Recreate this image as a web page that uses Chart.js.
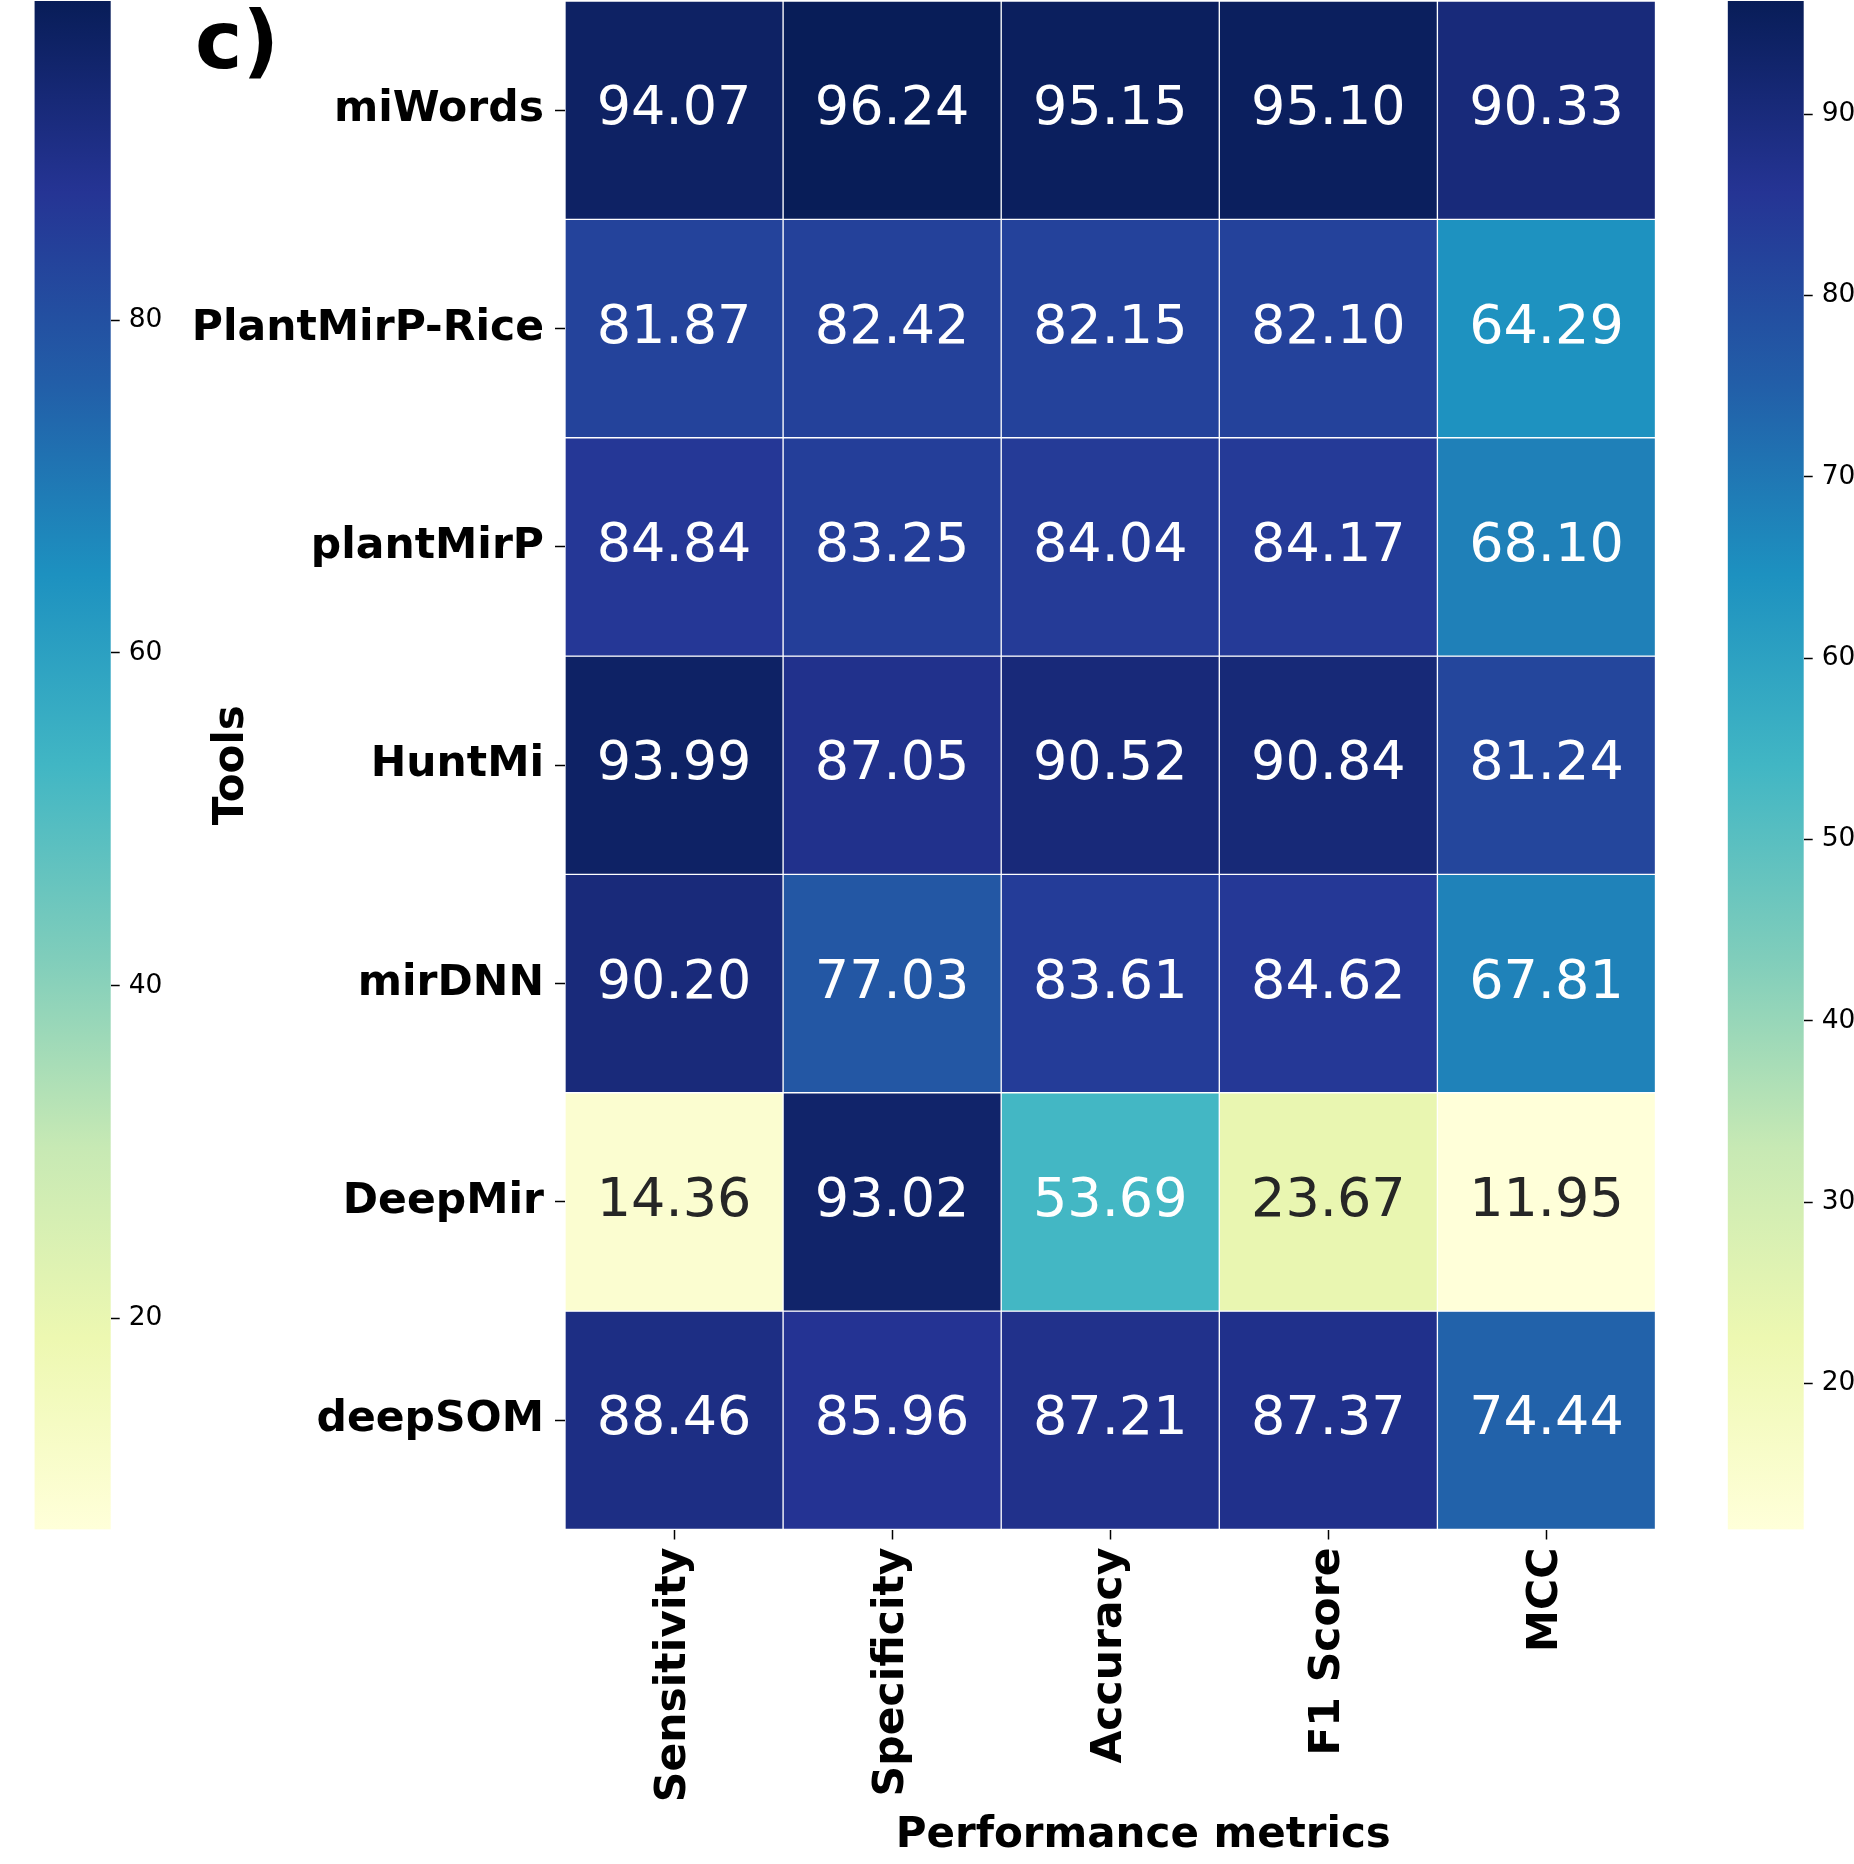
<!DOCTYPE html>
<html>
<head>
<meta charset="utf-8">
<title>Tool performance heatmap</title>
<script src="https://cdn.jsdelivr.net/npm/chart.js@4.4.1/dist/chart.umd.min.js"></script>
<style>
  html, body { margin: 0; padding: 0; background: #fff; width: 1854px; height: 1864px; overflow: hidden; }
  .layer { position: absolute; top: 0; }
</style>
</head>
<body>
<canvas id="cbLeft" class="layer" style="left:0;width:200px;height:1864px" width="200" height="1864"></canvas>
<canvas id="heat" class="layer" style="left:0;width:1854px;height:1864px" width="1854" height="1864"></canvas>
<canvas id="cbRight" class="layer" style="left:1660px;width:194px;height:1864px" width="194" height="1864"></canvas>
<script>
// ---- data ----
const tools = ['miWords', 'PlantMirP-Rice', 'plantMirP', 'HuntMi', 'mirDNN', 'DeepMir', 'deepSOM'];
const metrics = ['Sensitivity', 'Specificity', 'Accuracy', 'F1 Score', 'MCC'];

const sensitivity = [94.07, 81.87, 84.84, 93.99, 90.20, 14.36, 88.46];
const specificity = [96.24, 82.42, 83.25, 87.05, 77.03, 93.02, 85.96];
const accuracy    = [95.15, 82.15, 84.04, 90.52, 83.61, 53.69, 87.21];
const f1Score     = [95.10, 82.10, 84.17, 90.84, 84.62, 23.67, 87.37];
const mcc         = [90.33, 64.29, 68.10, 81.24, 67.81, 11.95, 74.44];

// colour scale of the shared (left) colorbar and tick values of both bars
const sharedScaleRange = [7.32, 99.17];
const sharedScaleTicks = [20, 40, 60, 80];
const panelScaleTicks  = [20, 30, 40, 50, 60, 70, 80, 90];

const columns = [sensitivity, specificity, accuracy, f1Score, mcc];
const allValues = columns.flat();
const panelScaleRange = [Math.min(...allValues), Math.max(...allValues)];

// ---- YlGnBu colormap ----
const YLGNBU = [[255,255,217],[237,248,177],[199,233,180],[127,205,187],[65,182,196],
                [29,145,192],[34,94,168],[37,52,148],[8,29,88]];
function ylgnbu(t) {
  t = Math.min(1, Math.max(0, t));
  const p = t * 8, i = Math.min(7, Math.floor(p)), f = p - i;
  const a = YLGNBU[i], b = YLGNBU[i + 1];
  return a.map((c, k) => Math.round(c + (b[k] - c) * f));
}
const rgb = c => `rgb(${c[0]},${c[1]},${c[2]})`;
function cellColor(v) {
  return ylgnbu((v - panelScaleRange[0]) / (panelScaleRange[1] - panelScaleRange[0]));
}
function luminance(c) {
  const lin = c.map(x => { x /= 255; return x <= 0.03928 ? x / 12.92 : Math.pow((x + 0.055) / 1.055, 2.4); });
  return 0.2126 * lin[0] + 0.7152 * lin[1] + 0.0722 * lin[2];
}

Chart.defaults.font.family = '"DejaVu Sans", sans-serif';
Chart.defaults.color = '#000';

const FULL_H = 1864;
const AREA_TOP = 1, AREA_BOTTOM = 1529.5;

// keep tick labels from adding extra space around the plot area
function noEdgePadding(s) {
  s.paddingTop = 0; s.paddingBottom = 0; s.paddingLeft = 0; s.paddingRight = 0;
}

// ---- heatmap ----
const cellText = {
  id: 'cellText',
  afterDatasetsDraw(chart) {
    const ctx = chart.ctx;
    ctx.save();
    ctx.font = '54px "DejaVu Sans"';
    ctx.textAlign = 'center';
    ctx.textBaseline = 'middle';
    chart.data.datasets.forEach((ds, i) => {
      chart.getDatasetMeta(i).data.forEach((bar, j) => {
        const v = ds.values[j];
        ctx.fillStyle = luminance(cellColor(v)) > 0.408 ? '#262626' : '#ffffff';
        ctx.fillText(v.toFixed(2), bar.x, (bar.y + bar.base) / 2);
      });
    });
    ctx.restore();
  }
};

const captions = {
  id: 'captions',
  afterDraw(chart) {
    const ctx = chart.ctx;
    const area = chart.chartArea;
    ctx.save();
    ctx.fillStyle = '#000';
    ctx.textBaseline = 'alphabetic';
    ctx.textAlign = 'center';
    ctx.font = 'bold 42px "DejaVu Sans"';
    ctx.fillText('Performance metrics', (area.left + area.right) / 2 + 33, 1847);
    ctx.textAlign = 'left';
    ctx.font = 'bold 80px "DejaVu Sans"';
    ctx.fillText('c)', 195, 68);
    ctx.restore();
  }
};

new Chart(document.getElementById('heat'), {
  type: 'bar',
  data: {
    labels: metrics,
    datasets: tools.map((tool, i) => ({
      label: tool,
      data: metrics.map(() => [i, i + 1]),
      values: columns.map(col => col[i]),
      backgroundColor: columns.map(col => rgb(cellColor(col[i]))),
      borderColor: 'rgba(255,255,255,0.8)',
      borderWidth: 1,
      borderSkipped: false,
      barPercentage: 1,
      categoryPercentage: 1,
      grouped: false
    }))
  },
  options: {
    responsive: false,
    animation: false,
    layout: { padding: { left: 0, top: AREA_TOP, right: 1854 - 1655.5, bottom: 0 } },
    plugins: { legend: { display: false }, tooltip: { enabled: false } },
    scales: {
      x: {
        type: 'category',
        offset: true,
        afterFit: s => { s.height = FULL_H - AREA_BOTTOM; noEdgePadding(s); },
        grid: { offset: false, drawOnChartArea: false, drawTicks: true, tickLength: 10, tickWidth: 1.5, tickColor: '#000' },
        border: { display: false },
        ticks: { autoSkip: false, minRotation: 90, maxRotation: 90, padding: 8,
                 font: { size: 42.5, weight: 'bold' }, color: '#000' }
      },
      y: {
        type: 'linear',
        min: 0, max: tools.length,
        reverse: true,
        afterBuildTicks: s => { s.ticks = tools.map((t, i) => ({ value: i + 0.5 })); },
        afterFit: s => { s.width = 565; noEdgePadding(s); },
        grid: { drawOnChartArea: false, drawTicks: true, tickLength: 10, tickWidth: 1.5, tickColor: '#000' },
        border: { display: false },
        ticks: { padding: 11, font: { size: 42.5, weight: 'bold' }, color: '#000',
                 callback: v => tools[Math.floor(v)] },
        title: { display: true, text: 'Tools', color: '#000',
                 font: { size: 42, weight: 'bold' }, padding: { top: 207 } }
      }
    }
  },
  plugins: [cellText, captions]
});

// ---- colorbars ----
function colorbar(canvasId, range, ticks, areaLeft, areaWidth) {
  const canvas = document.getElementById(canvasId);
  const cw = canvas.width;
  new Chart(canvas, {
    type: 'bar',
    data: {
      labels: [''],
      datasets: [{
        data: [[range[0], range[1]]],
        backgroundColor: (ctx) => {
          const chart = ctx.chart;
          if (!chart.chartArea) return null;
          const y = chart.scales.y;
          const g = chart.ctx.createLinearGradient(0, y.getPixelForValue(range[0]), 0, y.getPixelForValue(range[1]));
          YLGNBU.forEach((c, i) => g.addColorStop(i / 8, rgb(c)));
          return g;
        },
        borderWidth: 0,
        barPercentage: 1,
        categoryPercentage: 1
      }]
    },
    options: {
      responsive: false,
      animation: false,
      layout: { padding: { left: areaLeft, top: AREA_TOP, right: 0, bottom: FULL_H - AREA_BOTTOM } },
      plugins: { legend: { display: false }, tooltip: { enabled: false } },
      scales: {
        x: { display: false },
        y: {
          type: 'linear', position: 'right',
          min: range[0], max: range[1],
          afterBuildTicks: s => { s.ticks = ticks.map(v => ({ value: v })); },
          afterFit: s => { s.width = cw - areaLeft - areaWidth; noEdgePadding(s); },
          grid: { drawOnChartArea: false, drawTicks: true, tickLength: 9, tickWidth: 1.5, tickColor: '#000' },
          border: { display: false },
          ticks: { padding: 9, font: { size: 26.5 }, color: '#000' }
        }
      }
    }
  });
}

colorbar('cbLeft', sharedScaleRange, sharedScaleTicks, 34.5, 76.2);
colorbar('cbRight', panelScaleRange, panelScaleTicks, 67.7, 76);
</script>
</body>
</html>
